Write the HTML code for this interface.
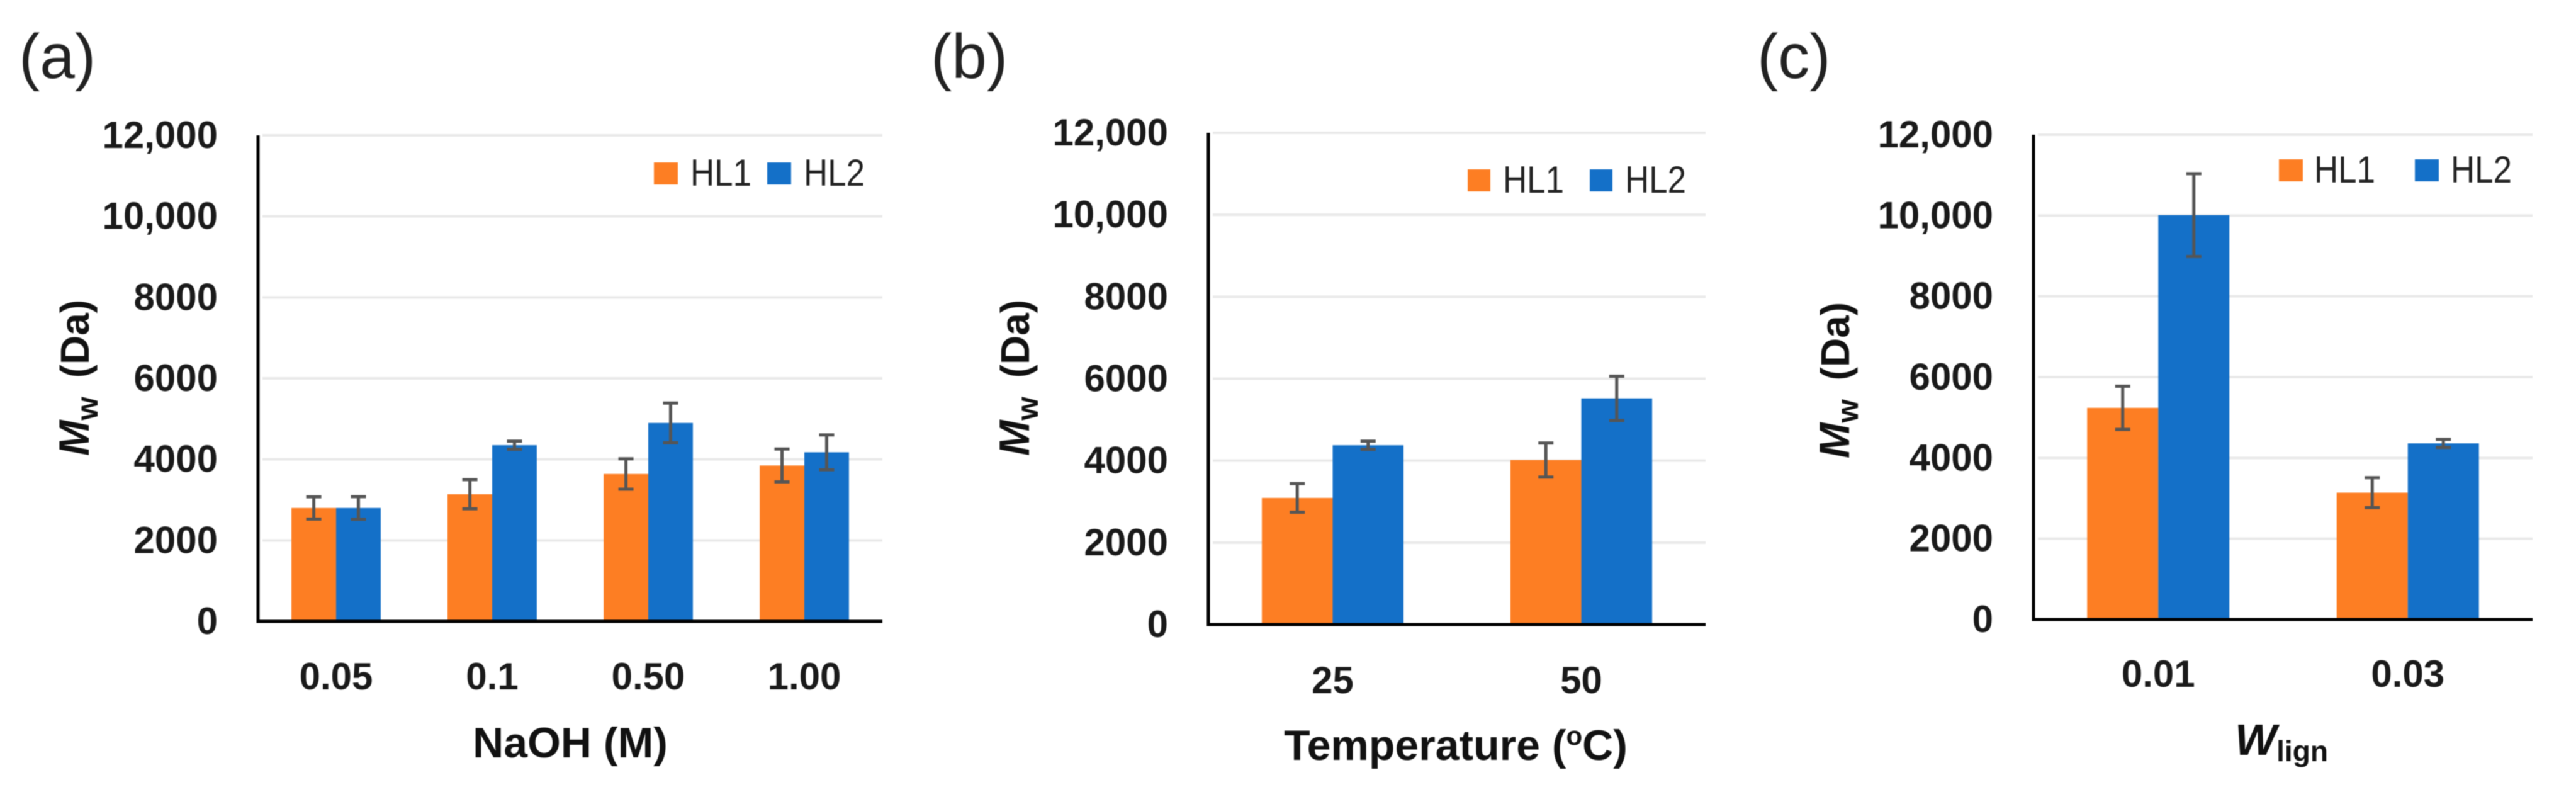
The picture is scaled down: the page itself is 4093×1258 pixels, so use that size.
<!DOCTYPE html>
<html>
<head>
<meta charset="utf-8">
<title>Mw of HL1 and HL2</title>
<style>
html,body{margin:0;padding:0;background:#fff;width:4093px;height:1258px;overflow:hidden}
svg{display:block;filter:blur(0.9px)}
text{font-family:"Liberation Sans",sans-serif;fill:#1a1a1a}
.tick{font-size:60px;font-weight:700}
.axis-title{font-size:68px;font-weight:700;fill:#111}
.y-title{font-size:64px;font-weight:700;fill:#111}
.legend-label{font-size:60px;fill:#222}
.panel-label{font-size:100px;fill:#222}
</style>
</head>
<body>
<svg id="figure" width="4093" height="1258" viewBox="0 0 4093 1258" xmlns="http://www.w3.org/2000/svg">
  <text class="panel-label" x="30" y="124">(a)</text>
  <text class="panel-label" x="1479" y="124">(b)</text>
  <text class="panel-label" x="2792" y="124">(c)</text>

  <text class="y-title" text-anchor="middle" transform="translate(141 600) rotate(-90)"><tspan font-style="italic" font-size="68">M</tspan><tspan font-size="48" dy="14">w</tspan><tspan dy="-14" dx="12"> (Da)</tspan></text>
  <text class="y-title" text-anchor="middle" transform="translate(1635 600) rotate(-90)"><tspan font-style="italic" font-size="68">M</tspan><tspan font-size="48" dy="14">w</tspan><tspan dy="-14" dx="12"> (Da)</tspan></text>
  <text class="y-title" text-anchor="middle" transform="translate(2938 604) rotate(-90)"><tspan font-style="italic" font-size="68">M</tspan><tspan font-size="48" dy="14">w</tspan><tspan dy="-14" dx="12"> (Da)</tspan></text>

  <text class="axis-title" text-anchor="middle" x="906" y="1203">NaOH (M)</text>
  <text class="axis-title" text-anchor="middle" x="2313" y="1207">Temperature (<tspan font-size="42" dy="-24">o</tspan><tspan dy="24">C)</tspan></text>
  <text class="axis-title" text-anchor="middle" x="3625" y="1199"><tspan font-style="italic" font-size="70">W</tspan><tspan font-size="46" dy="10">lign</tspan></text>
</svg>
<script>
var yTicks = [0, 2000, 4000, 6000, 8000, 10000, 12000];
var yTickLabels = ['0', '2000', '4000', '6000', '8000', '10,000', '12,000'];
var seriesNames = ['HL1', 'HL2'];
var seriesColors = ['#FD7E23', '#1470C8'];

var categoriesA = ['0.05', '0.1', '0.50', '1.00'];
var hl1ValuesA = [2800, 3140, 3640, 3850];
var hl2ValuesA = [2800, 4350, 4900, 4175];
var hl1ErrorsA = [275, 360, 375, 405];
var hl2ErrorsA = [280, 100, 490, 430];

var categoriesB = ['25', '50'];
var hl1ValuesB = [3090, 4015];
var hl2ValuesB = [4375, 5520];
var hl1ErrorsB = [350, 415];
var hl2ErrorsB = [100, 540];

var categoriesC = ['0.01', '0.03'];
var hl1ValuesC = [5240, 3140];
var hl2ValuesC = [10010, 4360];
var hl1ErrorsC = [535, 370];
var hl2ErrorsC = [1025, 100];

var SVGNS = 'http://www.w3.org/2000/svg';
var figure = document.getElementById('figure');

function make(tag, attrs, text) {
  var node = document.createElementNS(SVGNS, tag);
  for (var k in attrs) node.setAttribute(k, attrs[k]);
  if (text !== undefined) node.textContent = text;
  figure.appendChild(node);
  return node;
}

function drawPanel(p) {
  function y(v) { return p.bottom - (v / 12000) * (p.bottom - p.top); }
  var band = (p.right - p.left) / p.categories.length;
  var barW = band * p.barRatio;
  function groupCenter(i) { return p.left + band * (i + 0.5); }

  yTicks.forEach(function (t, i) {
    if (t !== 0) {
      var grid = make('line', {x1: p.left + 7, x2: p.right, y1: y(t), y2: y(t), stroke: '#e9e9e9', 'stroke-width': 4});
      
      
    }
    var label = make('text', {'class': 'tick', x: p.tickRight, y: y(t) + 20, 'text-anchor': 'end'}, yTickLabels[i]);
    
    
  });

  [p.hl1, p.hl2].forEach(function (vals, s) {
    vals.forEach(function (v, i) {
      var bx = groupCenter(i) - barW + s * barW;
      var bar = make('rect', {x: bx, y: y(v), width: barW, height: p.bottom - y(v), fill: seriesColors[s]});
      
      
    });
  });

  [p.hl1, p.hl2].forEach(function (vals, s) {
    var errs = s === 0 ? p.err1 : p.err2;
    vals.forEach(function (v, i) {
      var cx = groupCenter(i) - barW + s * barW + barW / 2;
      var hi = y(v + errs[i]);
      var lo = y(v - errs[i]);
      var d = 'M' + cx + ' ' + hi + 'V' + lo +
              'M' + (cx - 12) + ' ' + hi + 'H' + (cx + 12) +
              'M' + (cx - 12) + ' ' + lo + 'H' + (cx + 12);
      var err = make('path', {d: d, stroke: '#555', 'stroke-width': 5, fill: 'none'});
      
      
    });
  });

  var yAxis = make('line', {x1: p.left, x2: p.left, y1: p.top, y2: p.bottom + 2.5, stroke: '#000', 'stroke-width': 5});
  
  
  var xAxis = make('line', {x1: p.left, x2: p.right, y1: p.bottom, y2: p.bottom, stroke: '#000', 'stroke-width': 5});
  
  

  p.categories.forEach(function (c, i) {
    var label = make('text', {'class': 'tick', x: groupCenter(i), y: p.catBase, 'text-anchor': 'middle'}, c);
    
    
  });

  p.legend.forEach(function (l, s) {
    var swatch = make('rect', {x: l[0], y: p.legendTop, width: l[1] - l[0], height: 35, fill: seriesColors[s]});
    
    
    var text = make('text', {'class': 'legend-label', x: l[2], y: p.legendTop + 37, textLength: 97, lengthAdjust: 'spacingAndGlyphs'}, seriesNames[s]);
    
    
  });
}

drawPanel({id: 'a', left: 410, right: 1402, top: 215, bottom: 987, barRatio: 0.286, tickRight: 346, catBase: 1095,
  categories: categoriesA, hl1: hl1ValuesA, hl2: hl2ValuesA, err1: hl1ErrorsA, err2: hl2ErrorsA,
  legendTop: 258, legend: [[1039, 1077, 1097], [1219, 1257, 1277]]});
drawPanel({id: 'b', left: 1920, right: 2710, top: 211, bottom: 992, barRatio: 0.285, tickRight: 1856, catBase: 1101,
  categories: categoriesB, hl1: hl1ValuesB, hl2: hl2ValuesB, err1: hl1ErrorsB, err2: hl2ErrorsB,
  legendTop: 269, legend: [[2332, 2368, 2388], [2526, 2562, 2582]]});
drawPanel({id: 'c', left: 3231, right: 4024, top: 214, bottom: 984, barRatio: 0.285, tickRight: 3167, catBase: 1091,
  categories: categoriesC, hl1: hl1ValuesC, hl2: hl2ValuesC, err1: hl1ErrorsC, err2: hl2ErrorsC,
  legendTop: 253, legend: [[3621, 3659, 3677], [3837, 3875, 3894]]});
</script>
</body>
</html>
